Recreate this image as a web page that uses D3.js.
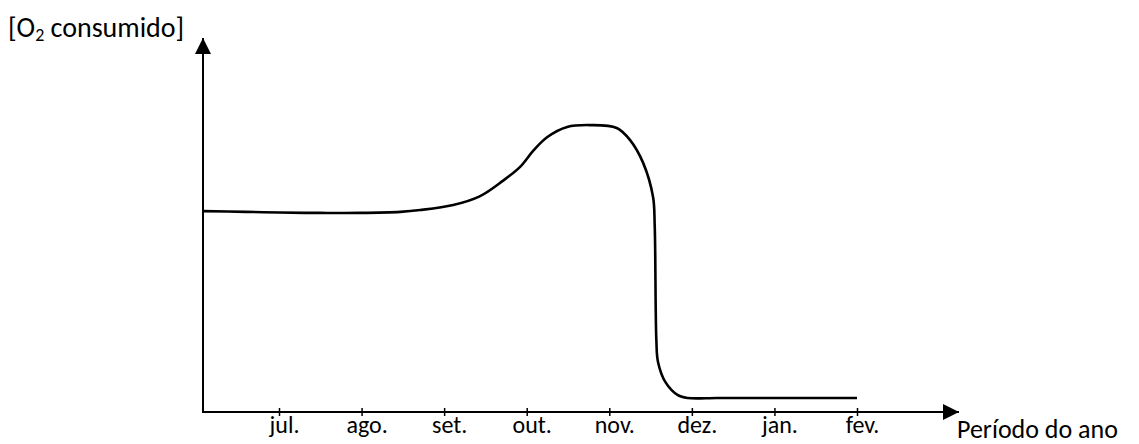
<!DOCTYPE html>
<html>
<head>
<meta charset="utf-8">
<script src="https://cdn.jsdelivr.net/npm/d3@7"></script>
<style>
  body { margin: 0; background: #fff; }
  text { font-family: Carlito, Lato, "Open Sans", sans-serif; fill: #000; }
</style>
</head>
<body>
<script>
// months on the x axis (index 0 = jul.)
const months = ['jul.', 'ago.', 'set.', 'out.', 'nov.', 'dez.', 'jan.', 'fev.'];
// curve: month position and O2 consumption (arbitrary units)
const curveX = [-0.92, -0.4, 0.0, 0.5, 0.98, 1.47, 1.71, 2.11, 2.43, 2.71, 2.92, 3.08, 3.25, 3.49, 3.77, 4.09, 4.25, 4.41, 4.53, 4.55, 4.57, 4.59, 4.68, 4.83, 4.95, 5.3, 5.8, 6.4, 7.0];
const curveY = [55.8, 55.6, 55.4, 55.3, 55.3, 55.6, 56.1, 57.5, 59.9, 64.2, 68.1, 72.6, 76.4, 79.2, 79.7, 78.9, 75.6, 69.2, 59.7, 51.9, 20, 13.9, 8.3, 4.7, 3.9, 3.9, 3.9, 3.9, 3.9];

const w = 1139, h = 444;
const svg = d3.select('body').append('svg')
              .attr('width', w)
              .attr('height', h)

const x = d3.scaleLinear().domain([0, 7]).range([279, 857]);
const y = d3.scaleLinear().domain([0, 100]).range([412, 52]);
const x0 = 203, y0 = 412;

svg.append('defs').append('marker')
   .attr('id', 'arrow')
   .attr('viewBox', '0 0 10 10')
   .attr('refX', 10).attr('refY', 5)
   .attr('markerWidth', 16).attr('markerHeight', 16)
   .attr('markerUnits', 'userSpaceOnUse')
   .attr('orient', 'auto')
   .append('path')
   .attr('d', 'M0,0 L10,5 L0,10 Z')
   .attr('fill', '#000')

// axes lines with arrows
svg.append('line')
   .attr('x1', x0).attr('y1', y0 + 1)
   .attr('x2', x0).attr('y2', 38)
   .attr('stroke', '#000').attr('stroke-width', 2)
   .attr('marker-end', 'url(#arrow)')
svg.append('line')
   .attr('x1', x0 - 1).attr('y1', y0)
   .attr('x2', 959).attr('y2', y0)
   .attr('stroke', '#000').attr('stroke-width', 2)
   .attr('marker-end', 'url(#arrow)')

// month ticks
const xAxis = d3.axisBottom(x)
                .tickValues(d3.range(months.length))
                .tickFormat(i => months[i])
                .tickSize(4)
const gx = svg.append('g')
              .attr('transform', `translate(0,${y0})`)
              .call(xAxis)
gx.attr('font-family', null).attr('font-size', null)
gx.select('.domain').remove()
gx.selectAll('.tick line')
  .attr('y1', -4).attr('y2', 4)
  .attr('stroke', '#000').attr('stroke-width', 1.5)
gx.selectAll('.tick text')
  .attr('y', 21).attr('dy', 0)
  .attr('dx', 5)
  .attr('font-size', 24)

// curve
const pts = curveX.map((d, i) => [d, curveY[i]]);
svg.append('path')
   .datum(pts)
   .attr('fill', 'none')
   .attr('stroke', '#000')
   .attr('stroke-width', 2.6)
   .attr('stroke-linejoin', 'round')
   .attr('d', d3.line().x(d => x(d[0])).y(d => y(d[1])).curve(d3.curveCatmullRom.alpha(0.5)))

// axis titles
const yt = svg.append('text')
              .attr('x', 8).attr('y', 37)
              .attr('font-size', 28)
yt.append('tspan').text('[O')
yt.append('tspan').attr('font-size', 18).attr('dy', 4).text('2')
yt.append('tspan').attr('dy', -4).text(' consumido]')

svg.append('text')
   .attr('x', 957).attr('y', 438)
   .attr('font-size', 26)
   .text('Período do ano')
</script>
</body>
</html>
